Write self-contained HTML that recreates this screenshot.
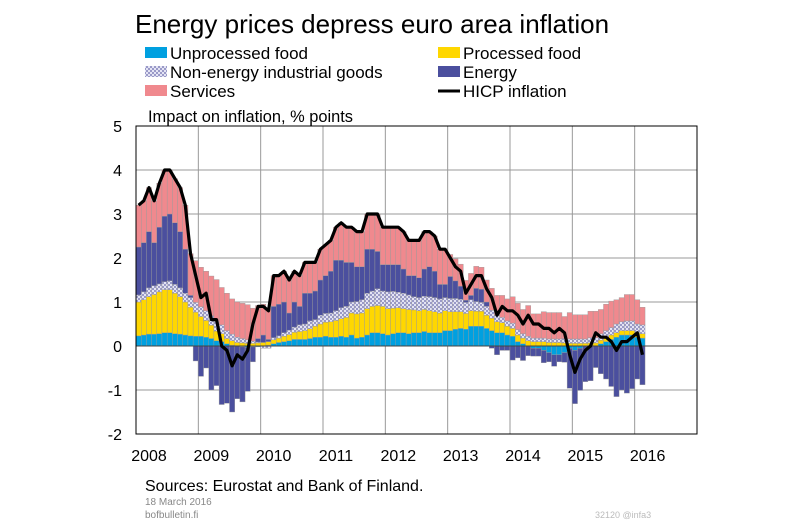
<!DOCTYPE html>
<html><head><meta charset="utf-8"><style>
body{margin:0;background:#fff;font-family:"Liberation Sans",sans-serif}
svg text{font-family:"Liberation Sans",sans-serif}
</style></head><body>
<svg id="chart" width="800" height="524" viewBox="0 0 800 524" xmlns="http://www.w3.org/2000/svg">
<defs>
<pattern id="hatch" width="4" height="4" patternUnits="userSpaceOnUse">
<rect width="4" height="4" fill="#e4e4f4"/><rect width="2" height="2" fill="#9a9ac8"/><rect x="2" y="2" width="2" height="2" fill="#9a9ac8"/>
</pattern>
</defs>
<text x="135" y="33" font-size="26" fill="#000">Energy prices depress euro area inflation</text>
<g font-size="17">
<g><rect x="145" y="47" width="22" height="11" fill="#00A0E0"/><text x="170" y="59">Unprocessed food</text></g>
<g><rect x="145" y="66" width="22" height="11" fill="url(#hatch)"/><text x="170" y="78">Non-energy industrial goods</text></g>
<g><rect x="145" y="85" width="22" height="11" fill="#F0898E"/><text x="170" y="97">Services</text></g>
<g><rect x="438" y="47" width="22" height="11" fill="#FFD700"/><text x="463" y="59">Processed food</text></g>
<g><rect x="438" y="66" width="22" height="11" fill="#4B4F9E"/><text x="463" y="78">Energy</text></g>
<g><line x1="438" y1="91" x2="460" y2="91" stroke="#000" stroke-width="3"/><text x="463" y="97">HICP inflation</text></g>
</g>
<text x="148" y="122" font-size="16.4">Impact on inflation, % points</text>
<g id="grid"></g>
<g id="bars"></g>
<g id="line"></g>
<g id="axes"></g>
<text x="145" y="491" font-size="16">Sources: Eurostat and Bank of Finland.</text>
<text x="145" y="505" font-size="10" fill="#888">18 March 2016</text>
<text x="145" y="518" font-size="10" fill="#888">bofbulletin.fi</text>
<text x="595" y="518" font-size="9" fill="#bbb">32120 @infa3</text>
</svg>
<script>
const years=["2008","2009","2010","2011","2012","2013","2014","2015","2016"];
const yTicks=[5,4,3,2,1,0,-1,-2];
const unprocessedFood=[.23,.25,.27,.27,.28,.3,.3,.28,.27,.25,.23,.22,
.22,.2,.17,.12,.1,.05,.02,0,-.02,-.03,-.02,-.02,
0,.02,.05,.08,.1,.12,.15,.15,.15,.17,.2,.2,
.22,.2,.2,.22,.2,.25,.18,.2,.25,.3,.3,.28,
.25,.28,.3,.3,.28,.3,.3,.33,.3,.3,.3,.35,
.35,.38,.4,.38,.45,.45,.45,.4,.35,.3,.3,.25,
.22,.1,.05,0,-.05,-.05,-.1,-.15,-.2,-.2,-.15,-.05,
-.1,-.05,0,0,0,.05,.1,.15,.2,.25,.25,.25,
.2,.18];
const processedFood=[.77,.8,.85,.9,.95,.98,.98,.92,.85,.75,.65,.55,
.45,.38,.3,.22,.18,.12,.1,.08,.07,.06,.06,.07,
.08,.08,.09,.1,.12,.14,.16,.18,.2,.22,.25,.3,
.32,.35,.38,.4,.45,.5,.55,.55,.6,.6,.62,.62,
.6,.58,.57,.55,.55,.52,.5,.5,.5,.48,.45,.45,
.43,.4,.38,.36,.35,.34,.34,.3,.28,.25,.23,.2,
.18,.15,.13,.12,.1,.1,.1,.08,.08,.08,.07,.06,
.06,.06,.06,.07,.07,.08,.1,.1,.1,.1,.1,.1,
.1,.1];
const neig=[.16,.18,.2,.2,.18,.18,.2,.2,.2,.2,.22,.22,
.22,.22,.22,.22,.2,.18,.15,.12,.1,.08,.05,.02,
-.05,-.05,.05,.05,.08,.1,.12,.15,.15,.18,.15,.2,
.2,.2,.22,.25,.25,.25,.28,.3,.35,.35,.38,.35,
.38,.38,.35,.35,.33,.3,.3,.3,.32,.32,.32,.3,
.3,.3,.28,.25,.25,.22,.2,.2,.18,.15,.12,.12,
.12,.12,.1,.1,.08,.08,.08,.08,.08,.08,.1,.1,
.1,.1,.1,.12,.12,.15,.15,.17,.2,.2,.22,.22,
.2,.2];
const energy=[1.09,1.12,1.28,.98,1.29,1.49,1.52,1.4,1.28,1.0,.05,-.34,
-.69,-.5,-1.0,-.9,-1.33,-1.3,-1.5,-1.2,-1.25,-1.0,-.34,.08,
.17,.05,.71,.72,.7,.39,.57,.42,.7,.63,.65,.8,
.86,.95,1.15,1.08,1.0,.9,.79,.75,1.0,.95,.85,.6,
.62,.61,.63,.55,.44,.48,.45,.62,.68,.6,.33,.3,
.5,.4,.3,.05,.1,.3,.3,.1,-.05,-.2,-.1,-.1,
-.32,-.27,-.33,-.22,-.18,-.18,-.28,-.21,-.26,-.16,-.22,-.91,
-1.21,-.96,-.81,-.79,-.49,-.63,-.75,-.92,-1.15,-1.0,-1.07,-.97,
-.75,-.88];
const services=[.95,.95,1.0,.95,1.0,1.05,1.0,1.0,1.0,1.0,.95,.95,
.9,.9,.9,.95,.85,.85,.8,.8,.8,.8,.75,.75,
.7,.7,.7,.65,.7,.75,.7,.7,.7,.7,.65,.7,
.7,.7,.75,.85,.8,.8,.8,.8,.8,.8,.85,.85,
.85,.85,.85,.85,.8,.8,.85,.85,.8,.8,.8,.8,
.5,.5,.5,.45,.5,.5,.5,.5,.5,.45,.5,.5,
.6,.6,.55,.7,.55,.55,.6,.6,.6,.6,.5,.6,
.55,.55,.55,.6,.6,.55,.6,.6,.55,.55,.6,.6,
.55,.4];
const hicp=[3.2,3.3,3.6,3.3,3.7,4.0,4.0,3.8,3.6,3.2,2.1,1.6,
1.1,1.2,.6,.6,0,-.1,-.45,-.2,-.3,-.1,.5,.9,
.9,.8,1.6,1.6,1.7,1.5,1.7,1.6,1.9,1.9,1.9,2.2,
2.3,2.4,2.7,2.8,2.7,2.7,2.6,2.6,3.0,3.0,3.0,2.7,
2.7,2.7,2.7,2.6,2.4,2.4,2.4,2.6,2.6,2.5,2.2,2.2,
2.0,1.8,1.7,1.2,1.4,1.6,1.6,1.3,1.1,.7,.9,.8,
.8,.7,.5,.7,.5,.5,.4,.4,.3,.4,.3,-.2,
-.6,-.3,-.1,0,.3,.2,.2,.1,-.1,.1,.1,.2,
.3,-.2];
const NS="http://www.w3.org/2000/svg";
const X0=136,X1=697,Y0=126,Y1=434,YMAX=5,YMIN=-2;
const monthW=(X1-X0)/108;
function xs(m){return X0+m*monthW;}
function ys(v){return Y0+(YMAX-v)/(YMAX-YMIN)*(Y1-Y0);}
function mk(tag,attrs,parent){const e=document.createElementNS(NS,tag);for(const k in attrs)e.setAttribute(k,attrs[k]);parent.appendChild(e);return e;}
const grid=document.getElementById('grid'),bars=document.getElementById('bars'),line=document.getElementById('line'),axes=document.getElementById('axes');
yTicks.forEach(t=>{
  const l=mk('line',{x1:X0,x2:X1,y1:ys(t),y2:ys(t),stroke:'#999','stroke-width':1},grid);
  
  
  const tx=mk('text',{x:122,y:ys(t)+6,'font-size':16,'text-anchor':'end'},axes);
  tx.textContent=t;
  
  
});
years.forEach((y,i)=>{
  const x=xs(i*12);
  const l=mk('line',{x1:x,x2:x,y1:Y0,y2:Y1,stroke:'#999','stroke-width':1},grid);
  
  
  const tx=mk('text',{x:x+13,y:461,'font-size':16,'text-anchor':'middle'},axes);
  tx.textContent=y;
  
  
});
const series=[[unprocessedFood,'#00A0E0','unprocessed-food'],[processedFood,'#FFD700','processed-food'],[neig,'url(#hatch)','non-energy-industrial-goods'],[energy,'#4B4F9E','energy'],[services,'#F0898E','services']];
for(let m=0;m<hicp.length;m++){
  let pos=0,neg=0;
  series.forEach(([arr,col,nm])=>{
    const v=arr[m];let a,b;
    if(v>=0){a=pos;b=pos+v;pos=b;}else{a=neg;b=neg+v;neg=b;}
    const yt=ys(Math.max(a,b)),yb=ys(Math.min(a,b));
    const r=mk('rect',{x:xs(m),y:yt,width:monthW,height:Math.max(0,yb-yt),fill:col,stroke:'#999','stroke-width':0.4},bars);
    
    
  });
}
mk('line',{x1:X0,x2:X1,y1:ys(0),y2:ys(0),stroke:'#444','stroke-width':1},bars);
const pts=hicp.map((v,m)=>(xs(m)+monthW/2).toFixed(1)+','+ys(v).toFixed(1)).join(' ');
const pl=mk('polyline',{points:pts,fill:'none',stroke:'#000','stroke-width':3.2,'stroke-linejoin':'round'},line);


const box=mk('rect',{x:X0,y:Y0,width:X1-X0,height:Y1-Y0,fill:'none',stroke:'#000','stroke-width':1},axes);


</script>
</body></html>
